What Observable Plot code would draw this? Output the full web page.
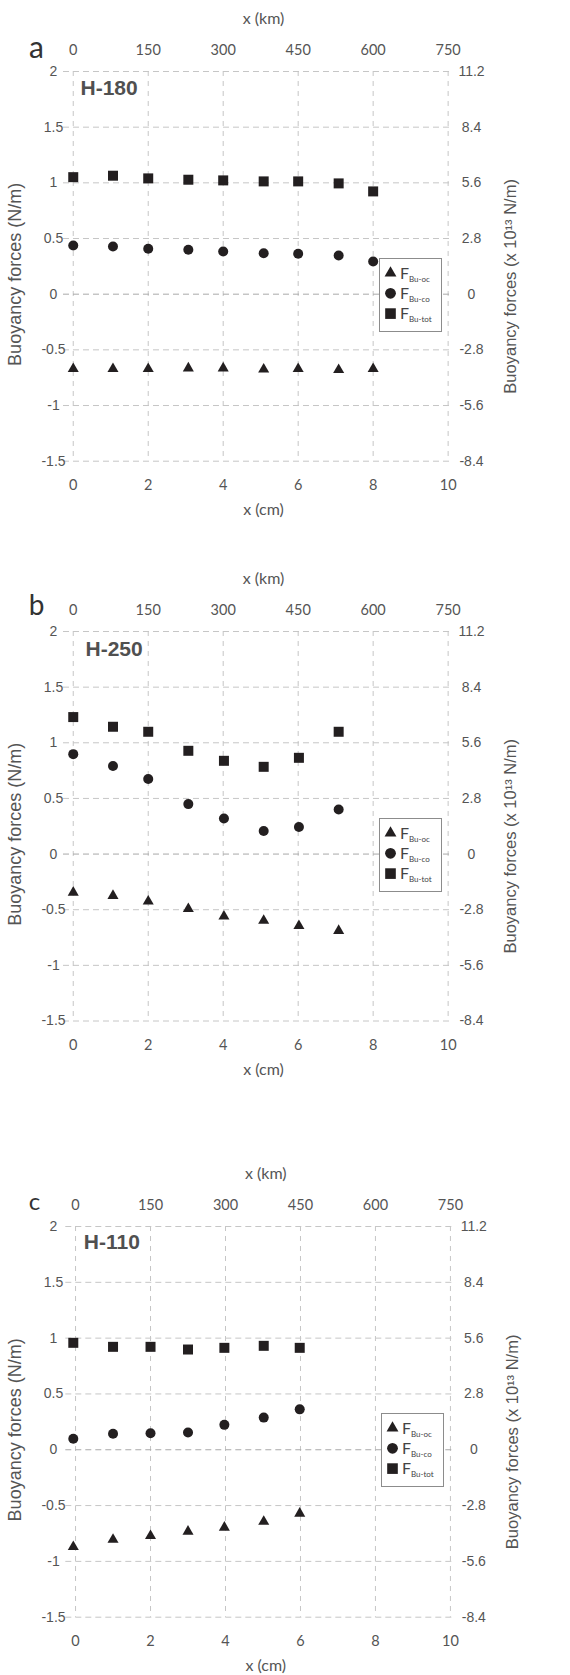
<!DOCTYPE html>
<html><head><meta charset="utf-8">
<script src="https://cdn.jsdelivr.net/npm/d3@7"></script>
<script src="https://cdn.jsdelivr.net/npm/@observablehq/plot@0.6"></script>
<style>
body{margin:0;background:#fff;}
#root{position:relative;width:570px;height:1675px;overflow:hidden;background:#fff;}
.panel{position:absolute;left:0;}
.legend{position:absolute;}
</style></head><body><div id="root"></div>
<script>
// ---- tick values / labels ----
const xTicksCm = [0, 2, 4, 6, 8, 10];
const xTickLabelsKm = ["0", "150", "300", "450", "600", "750"];
const yTicks = [-1.5, -1, -0.5, 0, 0.5, 1, 1.5, 2];
const yTickLabelsLeft = ["-1.5", "-1", "-0.5", "0", "0.5", "1", "1.5", "2"];
const yTickLabelsRight = ["-8.4", "-5.6", "-2.8", "0", "2.8", "5.6", "8.4", "11.2"];
const seriesNames = ["Bu-oc", "Bu-co", "Bu-tot"];
const panelLetters = ["a", "b", "c"];
const panelTitles = ["H-180", "H-250", "H-110"];

// ---- panel a : H-180 ----
const xA = [0, 1.06, 2, 3.07, 4, 5.08, 6, 7.08, 8];
const ocA = [-0.67, -0.67, -0.67, -0.665, -0.665, -0.675, -0.67, -0.68, -0.67];
const coA = [0.438, 0.429, 0.408, 0.399, 0.384, 0.368, 0.363, 0.348, 0.294];
const totA = [1.051, 1.064, 1.04, 1.028, 1.022, 1.013, 1.013, 0.995, 0.923];

// ---- panel b : H-250 ----
const xB = [0, 1.06, 2, 3.07, 4.02, 5.08, 6.02, 7.08];
const ocB = [-0.345, -0.374, -0.425, -0.493, -0.559, -0.598, -0.645, -0.689];
const coB = [0.898, 0.791, 0.674, 0.449, 0.320, 0.207, 0.243, 0.401];
const totB = [1.231, 1.144, 1.099, 0.928, 0.838, 0.784, 0.865, 1.099];

// ---- panel c : H-110 ----
const xC = [-0.06, 1, 2, 3, 3.97, 5.02, 5.98];
const ocC = [-0.870, -0.804, -0.771, -0.732, -0.696, -0.643, -0.571];
const coC = [0.098, 0.143, 0.148, 0.154, 0.223, 0.288, 0.362];
const totC = [0.958, 0.922, 0.922, 0.898, 0.913, 0.931, 0.913];

const panelData = [
  {x: xA, oc: ocA, co: coA, tot: totA},
  {x: xB, oc: ocB, co: coB, tot: totB},
  {x: xC, oc: ocC, co: coC, tot: totC}
];

const layout = [
  {top: 0,    ml: 63,   fh: 389.7, titleDx: 17, titleDy: 17, letterSize: 30, letterDy: -23.5, letterX: 36},
  {top: 560,  ml: 63,   fh: 389.5, titleDx: 22, titleDy: 18, letterSize: 28, letterDy: -25,   letterX: 36},
  {top: 1155, ml: 65.3, fh: 390.7, titleDx: 18, titleDy: 16, letterSize: 24, letterDy: -24.5, letterX: 34}
];

const INK = "#231f20";
const GRID = "#c6c6c6";
const SANS = "Liberation Sans, Arial, sans-serif";
const THIN = "Lato, 'Open Sans', sans-serif";
const H = 520, FW = 388;
const symR = {"Bu-oc": 4.1, "Bu-co": 5, "Bu-tot": 5.64};
const symOf = {"Bu-oc": "triangle", "Bu-co": "circle", "Bu-tot": "square"};

const root = document.getElementById("root");

panelData.forEach((pd, p) => {
  const L = layout[p];
  const rows = [];
  pd.x.forEach((x, i) => {
    rows.push({x, y: pd.oc[i], s: seriesNames[0]});
    rows.push({x, y: pd.co[i], s: seriesNames[1]});
    rows.push({x, y: pd.tot[i], s: seriesNames[2]});
  });
  const mr = 570 - L.ml - FW;
  const chart = Plot.plot({
    width: 570, height: H,
    marginLeft: L.ml, marginRight: mr, marginTop: 71, marginBottom: H - 71 - L.fh,
    x: {domain: [-0.26, 10.09]},
    y: {domain: [-1.5, 2]},
    style: {background: "transparent", overflow: "visible"},
    marks: [
      Plot.gridY(yTicks.filter(d => d !== 0), {stroke: GRID, strokeOpacity: 1, strokeDasharray: "6,4"}),
      Plot.gridX(xTicksCm, {stroke: GRID, strokeOpacity: 1, strokeDasharray: "5,5"}),
      Plot.gridY([0], {stroke: "#a9a9a9", strokeOpacity: 1, strokeDasharray: "6,4"}),
      Plot.axisY(yTicks, {anchor: "left", tickSize: 0, tickPadding: L.ml - 53, textAnchor: "middle",
        tickFormat: d => yTickLabelsLeft[yTicks.indexOf(d)], fontSize: 14, fontFamily: SANS, fill: "#555", label: null}),
      Plot.axisY(yTicks, {anchor: "right", tickSize: 0, tickPadding: 20, textAnchor: "middle",
        tickFormat: d => yTickLabelsRight[yTicks.indexOf(d)], fontSize: 14, fontFamily: SANS, fill: "#555", label: null}),
      Plot.axisX(xTicksCm, {anchor: "top", tickSize: 0, tickPadding: 21, lineAnchor: "middle",
        tickFormat: d => xTickLabelsKm[xTicksCm.indexOf(d)], fontSize: 14.5, fontFamily: THIN, fill: "#555", label: null}),
      Plot.axisX(xTicksCm, {anchor: "bottom", tickSize: 0, tickPadding: 24, lineAnchor: "middle",
        tickFormat: d => String(d), fontSize: 14.5, fontFamily: THIN, fill: "#555", label: null}),
      Plot.text(["x (km)"], {frameAnchor: "top", text: d => d, dx: 6, dy: -53, textAnchor: "middle", lineAnchor: "middle",
        fontSize: 16, fontFamily: THIN, fill: "#555"}),
      Plot.text(["x (cm)"], {frameAnchor: "bottom", text: d => d, dx: 6, dy: 49, textAnchor: "middle", lineAnchor: "middle",
        fontSize: 16, fontFamily: THIN, fill: "#555"}),
      Plot.text(["Buoyancy forces (N/m)"], {frameAnchor: "left", text: d => d, dx: 15 - L.ml, dy: 8, rotate: -90,
        textAnchor: "middle", lineAnchor: "middle", fontSize: 18, fontFamily: SANS, fill: "#555"}),
      Plot.text(["Buoyancy forces (x 10¹³ N/m)"], {frameAnchor: "right", text: d => d, dx: 59, dy: 20, rotate: -90,
        textAnchor: "middle", lineAnchor: "middle", fontSize: 16.5, fontFamily: SANS, fill: "#555"}),
      Plot.text([panelTitles[p]], {frameAnchor: "top-left", text: d => d, dx: L.titleDx, dy: L.titleDy, textAnchor: "start",
        lineAnchor: "middle", fontSize: 21, fontWeight: "bold", fontFamily: SANS, fill: "#505050"}),
      Plot.text([panelLetters[p]], {frameAnchor: "top-left", text: d => d, dx: L.letterX - L.ml, dy: L.letterDy, textAnchor: "middle",
        lineAnchor: "middle", fontSize: L.letterSize, fontFamily: THIN, fill: "#333"}),
      ...seriesNames.map(s => Plot.dot(rows.filter(r => r.s === s), {x: "x", y: "y", symbol: () => symOf[s], r: symR[s], fill: INK, stroke: "none"}))
    ]
  });
  chart.classList.add("panel");
  chart.style.top = L.top + "px";
  root.appendChild(chart);

  // legend box positioned through the chart's own scales
  const sx = chart.scale("x"), sy = chart.scale("y");
  const lx = sx.apply(8.17), ly = sy.apply(0.323);
  const lw = 63, lh = 74;
  const lg = d3.create("svg").attr("class", "legend").attr("width", lw).attr("height", lh)
    .style("left", lx + "px").style("top", (L.top + ly) + "px");
  lg.append("rect").attr("x", 0.5).attr("y", 0.5).attr("width", lw - 1).attr("height", lh - 1)
    .attr("fill", "#fff").attr("stroke", "#8c8c8c");
  const syms = [d3.symbolTriangle, d3.symbolCircle, d3.symbolSquare];
  const sizes = [4.4, 5.4, 6.0];
  seriesNames.forEach((s, i) => {
    const cy = 15 + 20.3 * i;
    lg.append("path").attr("transform", `translate(11.5,${cy})`)
      .attr("d", d3.symbol(syms[i], Math.PI * sizes[i] * sizes[i])()).attr("fill", INK);
    const t = lg.append("text").attr("x", 21).attr("y", cy + 5.5).attr("font-family", THIN)
      .attr("font-size", 16).attr("fill", "#444");
    t.append("tspan").text("F");
    t.append("tspan").attr("x", 30).attr("dy", 3).attr("font-size", 8).text(s);
  });
  root.appendChild(lg.node());
});
</script>
</body></html>
